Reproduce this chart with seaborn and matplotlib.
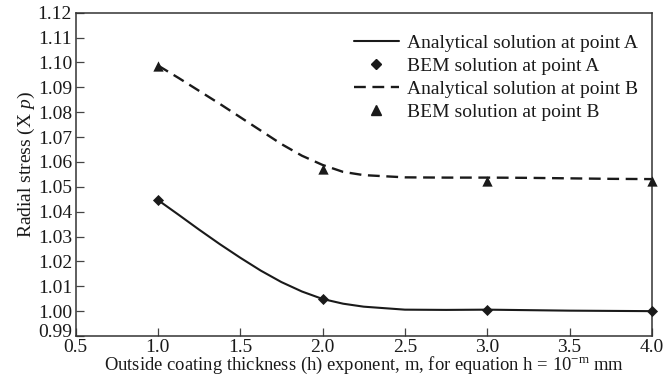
import matplotlib
matplotlib.use("Agg")
import matplotlib.pyplot as plt
import matplotlib.transforms as mtransforms
import seaborn as sns
import pandas as pd
from matplotlib.lines import Line2D

# ---- data ----
curve_x = [1.0, 1.125, 1.25, 1.375, 1.5, 1.625, 1.75, 1.875, 2.0, 2.125, 2.25,
           2.5, 2.75, 3.0, 3.25, 3.5, 3.75, 4.0]
analytical_A = [1.0447, 1.0388, 1.0328, 1.0270, 1.0215, 1.0163, 1.0117, 1.0079,
                1.0049, 1.0030, 1.0018, 1.0006, 1.0005, 1.0006, 1.0004, 1.0002,
                1.0001, 1.0000]
analytical_B = [1.0988, 1.0938, 1.0886, 1.0834, 1.0780, 1.0726, 1.0672, 1.0625,
                1.0588, 1.0560, 1.0547, 1.0538, 1.0537, 1.0537, 1.0536, 1.0534,
                1.0532, 1.0531]
bem_x = [1.0, 2.0, 3.0, 4.0]
bem_A = [1.0447, 1.0049, 1.0006, 1.0000]
bem_B = [1.0985, 1.0572, 1.0524, 1.0522]

x_ticks = [0.5, 1.0, 1.5, 2.0, 2.5, 3.0, 3.5, 4.0]
y_ticks = [0.99, 1.00, 1.01, 1.02, 1.03, 1.04, 1.05, 1.06, 1.07, 1.08, 1.09, 1.10, 1.11, 1.12]

labels = ["Analytical solution at point A", "BEM solution at point A",
          "Analytical solution at point B", "BEM solution at point B"]

sns.set_theme(style="white")
plt.rcParams["font.family"] = ["Liberation Serif", "DejaVu Serif"]
plt.rcParams["mathtext.fontset"] = "custom"
plt.rcParams["mathtext.rm"] = "Liberation Serif"
plt.rcParams["mathtext.it"] = "Liberation Serif:italic"

FS = 14
fig = plt.figure(figsize=(6.72, 3.89), dpi=100)
ax = fig.add_axes([0.1124, 0.1362, 0.8576, 0.8311])

dfc = pd.DataFrame({"x": curve_x, "A": analytical_A, "B": analytical_B})
dfb = pd.DataFrame({"x": bem_x, "A": bem_A, "B": bem_B})

ink = "#1a1a1a"
sns.lineplot(data=dfc, x="x", y="A", ax=ax, color=ink, lw=1.5, sort=True)
sns.lineplot(data=dfc, x="x", y="B", ax=ax, color=ink, lw=1.7, sort=True)
ax.lines[-1].set_dashes((5, 2.8))
for ln in ax.lines:
    ln.set_solid_joinstyle("round")
    ln.set_dash_joinstyle("round")
sns.scatterplot(data=dfb, x="x", y="A", ax=ax, marker="D", s=32, color=ink,
                edgecolor=ink, linewidth=0, zorder=5, clip_on=False)
sns.scatterplot(data=dfb, x="x", y="B", ax=ax, marker="^", s=55, color=ink,
                edgecolor=ink, linewidth=0, zorder=5, clip_on=False)

ax.set_xlim(0.5, 4.0)
ax.set_ylim(0.99, 1.12)
ax.set_xticks(x_ticks)
ax.set_xticklabels([f"{v:.1f}" for v in x_ticks])
ax.set_yticks(y_ticks)
ax.set_yticklabels([f"{v:.2f}" for v in y_ticks])
ax.tick_params(axis="both", direction="in", length=6, width=0.9, color="#444444",
               labelsize=FS, labelcolor=ink, top=False, right=False,
               bottom=True, left=True)
ax.tick_params(axis="x", pad=2.0)
ax.tick_params(axis="y", pad=2.5)
for sp in ax.spines.values():
    sp.set_visible(True)
    sp.set_color("#333333")
    sp.set_linewidth(1.1)

# lift the bottom y tick label slightly so it clears the "0.5" x tick label
lowest = ax.get_yticklabels()[0]
lowest.set_transform(lowest.get_transform() +
                     mtransforms.ScaledTranslation(0, 4 / 72, fig.dpi_scale_trans))

ax.set_xlabel("Outside coating thickness (h) exponent, m, for equation h = 10$^{-\\mathrm{m}}$ mm",
              fontsize=13.4, color=ink, labelpad=-0.5)
ax.set_ylabel("Radial stress (X $\\mathit{p}$)", fontsize=FS, color=ink)
ax.yaxis.set_label_coords(-0.066, 0.53)

handles = [
    Line2D([], [], color=ink, lw=1.5),
    Line2D([], [], color=ink, lw=0, marker="D", markersize=5),
    Line2D([], [], color=ink, lw=1.7, dashes=(5, 2.8)),
    Line2D([], [], color=ink, lw=0, marker="^", markersize=6.5),
]
ax.legend(handles, labels, loc="upper right", bbox_to_anchor=(1.0, 0.975),
          frameon=False, fontsize=FS, handlelength=2.35, handletextpad=0.4,
          labelspacing=0.27, borderaxespad=0.3, labelcolor=ink)

fig.savefig("out.png", dpi=100)
